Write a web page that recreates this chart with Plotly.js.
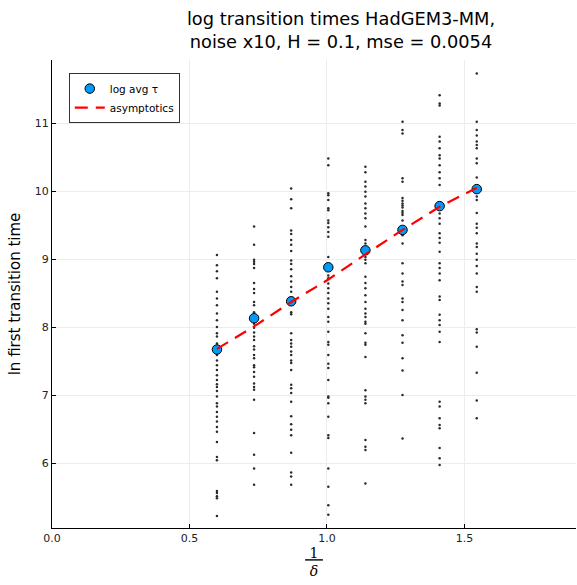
<!DOCTYPE html>
<html>
<head>
<meta charset="utf-8">
<script src="https://cdn.plot.ly/plotly-3.0.1.min.js"></script>
<style>html,body{margin:0;padding:0;background:#fff;}#chart{width:577px;height:585px;}</style>
</head>
<body>
<div id="chart"></div>
<script>
// 1/delta positions
const invDelta = [0.6, 0.735, 0.87, 1.005, 1.14, 1.275, 1.41, 1.545];
// log of averaged transition time per 1/delta
const logAvgTau = [7.67, 8.13, 8.38, 8.88, 9.13, 9.43, 9.78, 10.03];
// asymptotic prediction
const asymptotics = [7.68, 8.01, 8.37, 8.70, 9.07, 9.43, 9.77, 10.05];
// ln of individual first transition times, per 1/delta column
const samples1 = [9.06, 8.91, 8.82, 8.72, 8.52, 8.42, 8.32, 8.20, 8.10, 8.00, 7.91, 7.86, 7.76, 7.59, 7.51, 7.44, 7.37, 7.29, 7.22, 7.16, 7.12, 7.06, 6.98, 6.88, 6.83, 6.75, 6.68, 6.61, 6.53, 6.46, 6.31, 6.09, 6.04, 5.59, 5.56, 5.51, 5.48, 5.22];
const samples2 = [9.48, 9.21, 8.99, 8.96, 8.93, 8.87, 8.65, 8.56, 8.50, 8.37, 8.32, 8.22, 8.17, 8.05, 7.99, 7.92, 7.86, 7.81, 7.72, 7.67, 7.59, 7.54, 7.44, 7.41, 7.34, 7.27, 7.17, 7.12, 7.08, 6.93, 6.44, 6.12, 5.92, 5.68];
const samples3 = [10.04, 9.88, 9.75, 9.42, 9.37, 9.28, 9.21, 9.12, 8.98, 8.93, 8.85, 8.75, 8.67, 8.59, 8.52, 8.22, 8.19, 7.91, 7.81, 7.76, 7.71, 7.64, 7.59, 7.51, 7.47, 7.37, 7.15, 7.10, 7.03, 6.90, 6.69, 6.57, 6.49, 6.41, 6.15, 5.86, 5.80, 5.68];
const samples4 = [10.48, 10.38, 9.97, 9.94, 9.87, 9.75, 9.72, 9.57, 9.53, 9.47, 9.40, 9.33, 9.03, 8.76, 8.72, 8.64, 8.57, 8.50, 8.42, 8.35, 8.27, 8.15, 8.08, 7.93, 7.78, 7.74, 7.59, 7.46, 7.40, 7.22, 6.98, 6.96, 6.88, 6.68, 6.41, 6.37, 5.92, 5.65, 5.38, 5.24];
const samples5 = [10.36, 10.28, 10.14, 10.07, 9.99, 9.92, 9.82, 9.75, 9.67, 9.60, 9.48, 9.28, 9.23, 9.03, 8.99, 8.94, 8.74, 8.65, 8.57, 8.47, 8.37, 8.27, 8.20, 8.15, 8.08, 8.05, 7.91, 7.77, 7.74, 7.56, 7.07, 6.98, 6.93, 6.88, 6.34, 6.24, 6.19, 5.70];
const samples6 = [11.02, 10.90, 10.85, 10.19, 10.14, 9.90, 9.86, 9.82, 9.79, 9.76, 9.71, 9.68, 9.65, 9.57, 9.35, 9.23, 8.94, 8.79, 8.67, 8.62, 8.42, 8.37, 8.25, 8.10, 7.88, 7.77, 7.54, 7.36, 7.00, 6.36];
const samples7 = [11.41, 11.29, 11.26, 10.80, 10.73, 10.63, 10.53, 10.48, 10.38, 10.28, 10.19, 10.09, 9.67, 9.60, 9.52, 9.38, 9.31, 9.24, 9.11, 8.94, 8.87, 8.79, 8.69, 8.45, 8.40, 8.18, 8.10, 8.03, 7.93, 7.78, 6.90, 6.83, 6.66, 6.56, 6.51, 6.22, 6.07, 5.97];
const samples8 = [11.73, 11.02, 10.90, 10.82, 10.73, 10.68, 10.63, 10.48, 10.41, 10.20, 9.92, 9.87, 9.68, 9.52, 9.46, 9.38, 9.23, 9.18, 9.08, 8.99, 8.90, 8.79, 8.59, 8.52, 7.97, 7.92, 7.71, 7.33, 6.92, 6.66];
// tick labels
const xTickVals = [0, 0.5, 1.0, 1.5];
const xTickText = ["0.0", "0.5", "1.0", "1.5"];
const yTickVals = [6, 7, 8, 9, 10, 11];

const allSamples = [samples1, samples2, samples3, samples4, samples5, samples6, samples7, samples8];
const sx = [], sy = [];
allSamples.forEach((col, i) => col.forEach(v => { sx.push(invDelta[i]); sy.push(v); }));

const traces = [
  {x: sx, y: sy, type: 'scatter', mode: 'markers', showlegend: false,
   marker: {size: 2.5, color: '#2a2a2a', line: {width: 0}}, hoverinfo: 'skip'},
  {x: invDelta, y: logAvgTau, type: 'scatter', mode: 'markers', name: 'log avg τ',
   marker: {size: 9.5, color: '#009AFA', line: {color: '#000', width: 1}}},
  {x: invDelta, y: asymptotics, type: 'scatter', mode: 'lines', name: 'asymptotics',
   line: {color: '#FF0000', width: 2.2, dash: '13px,8px'}}
];

const axisFont = {family: 'DejaVu Sans, sans-serif', size: 11, color: '#222'};
const layout = {
  width: 577, height: 585,
  margin: {l: 52, r: 1, t: 60, b: 57},
  paper_bgcolor: '#fff', plot_bgcolor: '#fff',
  font: {family: 'DejaVu Sans, sans-serif', color: '#000'},
  title: {text: 'log transition times HadGEM3-MM,<br>noise x10, H = 0.1, mse = 0.0054',
          x: 341/577, xanchor: 'center', y: 0.958, yanchor: 'top',
          font: {family: 'DejaVu Sans, sans-serif', size: 17.8, color: '#000'}},
  xaxis: {range: [0, 1.906], tickvals: xTickVals, ticktext: xTickText,
          showgrid: true, gridcolor: '#ececec', gridwidth: 1, zeroline: false,
          showline: true, linecolor: '#000', linewidth: 1, mirror: false,
          ticks: 'inside', ticklen: 4, tickcolor: '#000', tickfont: axisFont,
          title: {text: '<u> 1 </u><br><i>δ</i>', standoff: 0,
                  font: {family: 'DejaVu Serif, serif', size: 14, color: '#000'}}},
  yaxis: {range: [5.044, 11.93], tickvals: yTickVals,
          showgrid: true, gridcolor: '#ececec', gridwidth: 1, zeroline: false,
          showline: true, linecolor: '#000', linewidth: 1, mirror: false,
          ticks: 'inside', ticklen: 4, tickcolor: '#000', tickfont: axisFont,
          title: {text: 'ln first transition time', standoff: 10,
                  font: {family: 'DejaVu Sans, sans-serif', size: 15, color: '#000'}}},
  legend: {x: 0.032, y: 0.972, xanchor: 'left', yanchor: 'top',
           bgcolor: '#fff', bordercolor: '#333', borderwidth: 1,
           font: {family: 'DejaVu Sans, sans-serif', size: 10.5, color: '#000'},
           tracegroupgap: 0, itemwidth: 30}
};

Plotly.newPlot('chart', traces, layout, {displayModeBar: false, staticPlot: true});
</script>
</body>
</html>
